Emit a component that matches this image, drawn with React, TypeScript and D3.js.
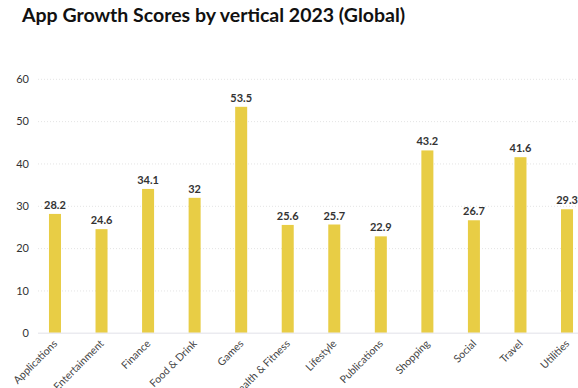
import * as d3 from "d3";

const categories = [
  "Applications",
  "Entertainment",
  "Finance",
  "Food & Drink",
  "Games",
  "Health & Fitness",
  "Lifestyle",
  "Publications",
  "Shopping",
  "Social",
  "Travel",
  "Utilities",
];
const scores = [28.2, 24.6, 34.1, 32, 53.5, 25.6, 25.7, 22.9, 43.2, 26.7, 41.6, 29.3];
const yTicks = [0, 10, 20, 30, 40, 50, 60];

const WIDTH = 578;
const HEIGHT = 388;
const FONT = "Lato, 'Open Sans', sans-serif";

export default function App() {
  // Échelles
  const x = d3
    .scaleBand()
    .domain(categories)
    .range([31.7, 590.3])
    .paddingInner(0.742)
    .paddingOuter(0.371);
  const y = d3.scaleLinear().domain([0, 60]).range([333.3, 79.3]);

  const data = categories.map((c, i) => ({ name: c, value: scores[i] }));

  return (
    <svg
      width={WIDTH}
      height={HEIGHT}
      style={{ position: "fixed", left: 0, top: 0, background: "#fff" }}
      fontFamily={FONT}
    >
      {/* Titre */}
      <text x={22} y={22} fontSize={19.5} fontWeight={700} fill="#111">
        App Growth Scores by vertical 2023 (Global)
      </text>

      {/* Grille */}
      {yTicks.map((t) => (
        <g key={t}>
          {t > 0 && (
            <line
              x1={38}
              x2={WIDTH}
              y1={y(t)}
              y2={y(t)}
              stroke="#e4e4e4"
              strokeWidth={1}
              strokeDasharray="1,2"
            />
          )}
          <text
            x={29}
            y={y(t)}
            dy="0.35em"
            textAnchor="end"
            fontSize={11}
            fill="#333"
          >
            {t}
          </text>
        </g>
      ))}

      {/* Barres */}
      {data.map((d) => (
        <rect
          key={d.name}
          x={x(d.name)}
          y={y(d.value)}
          width={x.bandwidth()}
          height={y(0) - y(d.value)}
          fill="#E8CD45"
        />
      ))}

      {/* Axe X */}
      <line x1={38} x2={WIDTH} y1={y(0)} y2={y(0)} stroke="#ebebf0" strokeWidth={1.5} />

      {/* Étiquettes de valeurs */}
      {data.map((d) => (
        <text
          key={d.name}
          x={(x(d.name) || 0) + x.bandwidth() / 2}
          y={y(d.value) - 5}
          textAnchor="middle"
          fontSize={11}
          fontWeight={700}
          fill="#333"
        >
          {d.value}
        </text>
      ))}

      {/* Catégories */}
      {data.map((d) => {
        const cx = (x(d.name) || 0) + x.bandwidth() / 2;
        return (
          <text
            key={d.name}
            transform={`translate(${cx + 3},${y(0) + 11}) rotate(-45)`}
            textAnchor="end"
            fontSize={10.5}
            fill="#444"
          >
            {d.name}
          </text>
        );
      })}
    </svg>
  );
}
